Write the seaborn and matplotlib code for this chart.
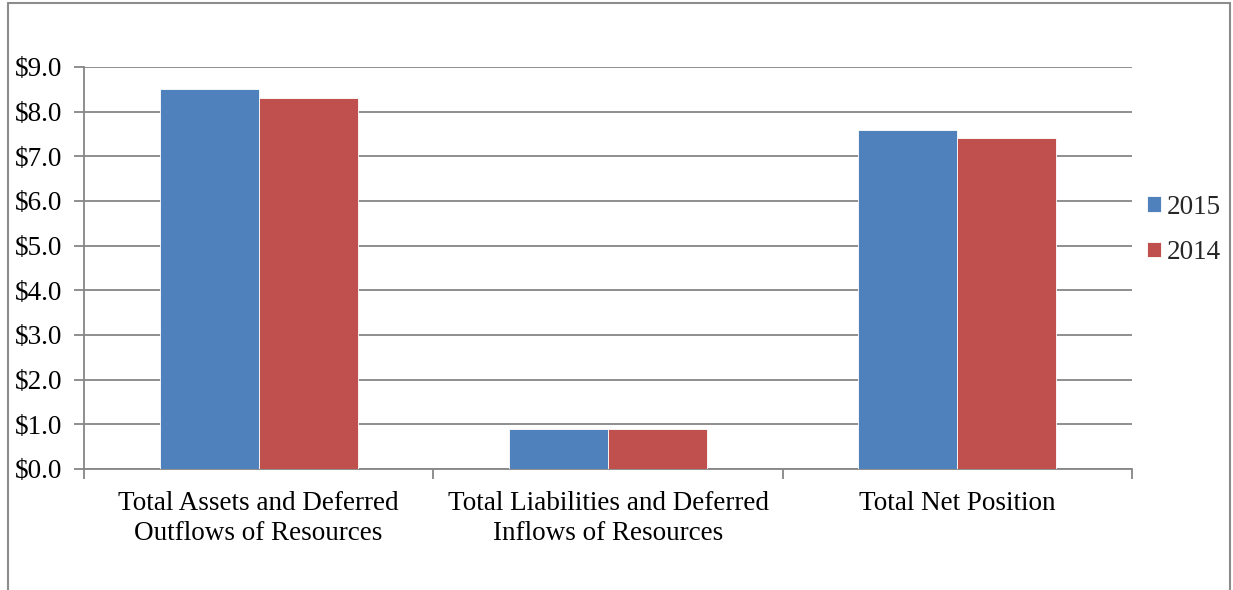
import matplotlib
matplotlib.use("Agg")
import matplotlib.pyplot as plt
import seaborn as sns
import pandas as pd
from matplotlib.lines import Line2D

categories = ["Total Assets and Deferred\nOutflows of Resources",
              "Total Liabilities and Deferred\nInflows of Resources",
              "Total Net Position"]
values_2015 = [8.5, 0.9, 7.6]
values_2014 = [8.3, 0.9, 7.4]
series = ["2015", "2014"]
yticks = [0, 1, 2, 3, 4, 5, 6, 7, 8, 9]

df = pd.DataFrame({
    "category": categories * 2,
    "value": values_2015 + values_2014,
    "year": [series[0]] * 3 + [series[1]] * 3,
})

sns.set_theme(style="white")
plt.rcParams["font.family"] = ["Liberation Serif", "DejaVu Serif"]

W, H = 1233, 590
fs = 19.5
fig = plt.figure(figsize=(W / 100, H / 100), dpi=100)
ax = fig.add_axes([84 / W, 1 - 469 / H, (1132 - 84) / W, (469 - 67) / H])

grid_c = "#868686"
sns.barplot(data=df, x="category", y="value", hue="year", hue_order=series,
            order=categories, palette=["#4F81BD", "#C0504D"], width=0.567,
            saturation=1, ax=ax, edgecolor="white", linewidth=0.6, zorder=3)

ax.set_xlim(-0.5, 2.5)
ax.set_ylim(0, 9)
ax.set_yticks(yticks)
ax.set_yticklabels([f"${v:.1f}" for v in yticks], fontsize=fs)
ax.set_xticks([0, 1, 2])
ax.set_xticklabels(categories, fontsize=fs, linespacing=1.27)
ax.set_xlabel("")
ax.set_ylabel("")
ax.yaxis.grid(True, color=grid_c, linewidth=1.3)
ax.set_axisbelow(True)
for s in ["top", "right"]:
    ax.spines[s].set_visible(False)
for s in ["left", "bottom"]:
    ax.spines[s].set_color(grid_c)
    ax.spines[s].set_linewidth(1.3)
ax.tick_params(axis="y", left=True, length=7, color=grid_c, width=1.3, pad=8.5,
               labelcolor="black")
ax.tick_params(axis="x", bottom=False, pad=10, labelcolor="black")
# ticks at group boundaries on x axis
ax.set_xticks([-0.5, 0.5, 1.5, 2.5], minor=True)
ax.tick_params(axis="x", which="minor", bottom=True, length=7, color=grid_c, width=1.3)

leg = ax.legend(loc="center left", bbox_to_anchor=(1136 / W, 1 - 230 / H),
                bbox_transform=fig.transFigure, frameon=False, fontsize=fs,
                handlelength=0.52, handleheight=0.52, handletextpad=0.2,
                labelspacing=0.75, borderaxespad=0)

# outer chart border (bottom cut off)
bc = "#8c8c8c"
fig.add_artist(Line2D([8 / W, 8 / W], [0, 1 - 3 / H], color=bc, lw=1.5, transform=fig.transFigure))
fig.add_artist(Line2D([1230 / W, 1230 / W], [0, 1 - 3 / H], color=bc, lw=1.5, transform=fig.transFigure))
fig.add_artist(Line2D([8 / W, 1230 / W], [1 - 3 / H, 1 - 3 / H], color=bc, lw=1.5, transform=fig.transFigure))

fig.savefig("out.png", dpi=100)
